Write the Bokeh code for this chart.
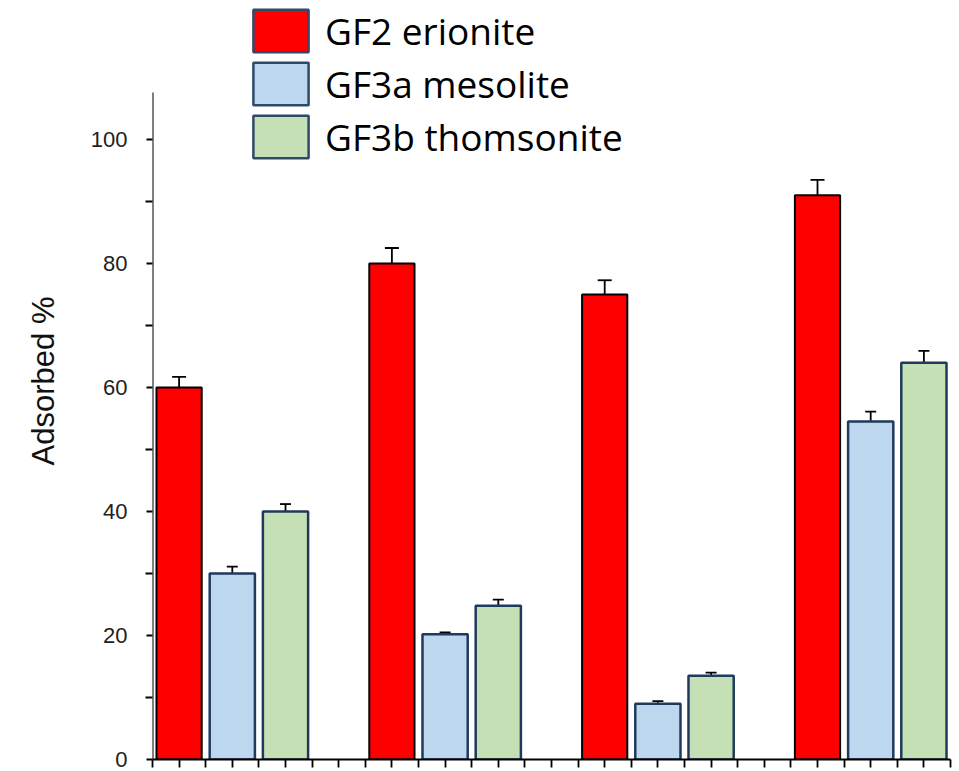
import numpy as np
from bokeh.plotting import figure
from bokeh.models import (ColumnDataSource, Whisker, TeeHead, Legend, LegendItem,
                          FixedTicker, Range1d, CustomJSTickFormatter)
from bokeh.embed import file_html
from bokeh.resources import INLINE

# ---- data ----
series = ["GF2 erionite", "GF3a mesolite", "GF3b thomsonite"]
gf2 = [60, 80, 75, 91]
gf2_err = [1.7, 2.5, 2.3, 2.5]
gf3a = [30, 20.2, 9, 54.5]
gf3a_err = [1.1, 0.3, 0.4, 1.6]
gf3b = [40, 24.8, 13.5, 64]
gf3b_err = [1.2, 1.0, 0.5, 1.9]
y_ticks = [0, 20, 40, 60, 80, 100]
y_minor_ticks = [10, 30, 50, 70, 90]
y_axis_top = 107.6

values = [gf2, gf3a, gf3b]
errors = [gf2_err, gf3a_err, gf3b_err]
fills = ["#FF0000", "#BDD7EE", "#C5E0B4"]
bar_lines = ["#000000", "#1F3A5C", "#1F3A5C"]
legend_line = "#2E4A6B"
n_groups = len(gf2)
group_step = 4
x_start, x_end = -0.5, 14.5

p = figure(width=959, height=771, output_backend="svg", toolbar_location=None,
           x_range=Range1d(x_start, x_end), y_range=Range1d(0, 122.1),
           min_border_left=152, min_border_top=2, min_border_bottom=12,
           min_border_right=9)
p.outline_line_color = None
p.xgrid.visible = False
p.ygrid.visible = False
p.background_fill_color = "white"
p.border_fill_color = "white"

# y axis line only up to the axis top value
p.segment(x0=[x_start], y0=[0], x1=[x_start], y1=[y_axis_top],
          line_color="black", line_width=2)

items = []
for j in range(3):
    xs = [group_step * i + j for i in range(n_groups)]
    vals = values[j]
    errs = errors[j]
    src = ColumnDataSource(dict(x=xs, top=vals,
                                upper=[v + e for v, e in zip(vals, errs)],
                                lower=[v - e for v, e in zip(vals, errs)]))
    p.vbar(x="x", top="top", width=0.85, source=src, fill_color=fills[j],
           line_color=bar_lines[j], line_width=2 if j == 0 else 2.5)
    head = 14 if j == 0 else 11
    w = Whisker(base="x", upper="upper", lower="lower", source=src,
                dimension="height", line_color="black", line_width=1.8,
                upper_head=TeeHead(size=head, line_color="black", line_width=1.8),
                lower_head=TeeHead(size=head, line_color="black", line_width=1.8))
    if j != 0:
        w.level = "underlay"
    p.add_layout(w)
    # hidden twin renderer used only for the legend swatch
    r = p.vbar(x="x", top="top", width=0.85, source=src, fill_color=fills[j],
               line_color=legend_line, line_width=2.5, visible=False)
    items.append(LegendItem(label=series[j], renderers=[r]))

legend = Legend(items=items, location=(94, 596), orientation="vertical",
                glyph_width=69, glyph_height=53, spacing=0, padding=0, margin=0,
                label_standoff=10, label_text_font="Open Sans",
                label_text_font_size="37px", label_text_color="black",
                label_height=40,
                border_line_color=None, background_fill_alpha=0)
p.add_layout(legend, "center")

# axes
p.yaxis.ticker = FixedTicker(ticks=y_ticks, minor_ticks=y_minor_ticks)
p.yaxis.axis_line_color = None
p.yaxis.major_tick_line_width = 1.8
p.yaxis.minor_tick_line_width = 1.8
p.yaxis.major_tick_in = 0
p.yaxis.major_tick_out = 6
p.yaxis.minor_tick_in = 0
p.yaxis.minor_tick_out = 7
p.yaxis.major_label_standoff = 18
p.yaxis.major_label_text_font = "Liberation Sans"
p.yaxis.major_label_text_font_size = "22px"
p.yaxis.major_label_text_color = "#222222"
p.yaxis.axis_label = "Adsorbed %"
p.yaxis.axis_label_text_font = "Liberation Sans"
p.yaxis.axis_label_text_font_size = "31px"
p.yaxis.axis_label_text_font_style = "normal"
p.yaxis.axis_label_text_color = "#111111"
p.yaxis.axis_label_standoff = 27

p.xaxis.ticker = FixedTicker(ticks=list(np.arange(x_start, x_end + 0.01, 0.5)))
p.xaxis.formatter = CustomJSTickFormatter(code="return ''")
p.xaxis.axis_line_width = 2
p.xaxis.axis_line_color = "black"
p.xaxis.major_tick_line_width = 1.8
p.xaxis.major_tick_in = 0
p.xaxis.major_tick_out = 8
p.xaxis.minor_tick_out = 0
p.xaxis.minor_tick_in = 0
p.xaxis.major_label_standoff = 0

open("out.html", "w").write(file_html(p, INLINE))
